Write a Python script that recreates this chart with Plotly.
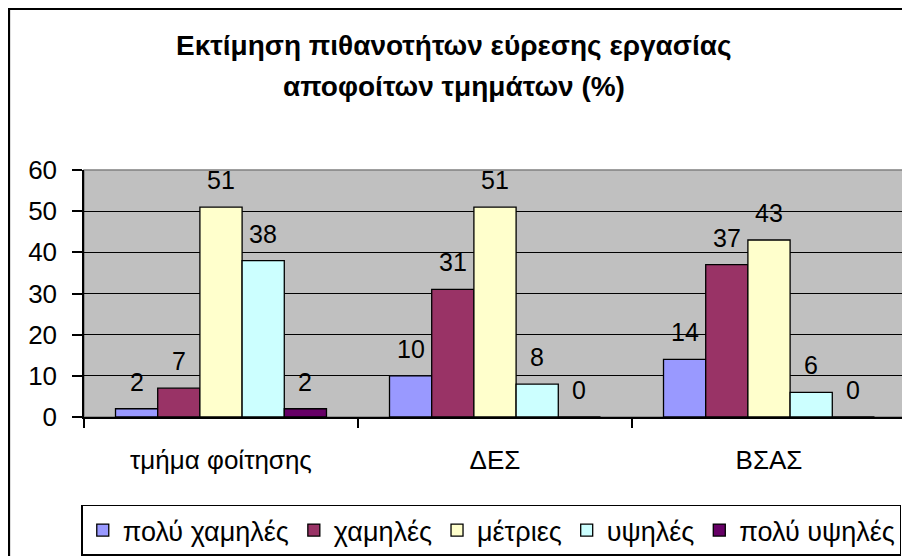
import plotly.graph_objects as go

# categories and series (percent)
departments = ["τμήμα φοίτησης", "ΔΕΣ", "ΒΣΑΣ"]
series_names = ["πολύ χαμηλές", "χαμηλές", "μέτριες", "υψηλές", "πολύ υψηλές"]
very_low = [2, 10, 14]
low = [7, 31, 37]
medium = [51, 51, 43]
high = [38, 8, 6]
very_high = [2, 0, 0]
colors = ["#9999FF", "#993366", "#FFFFCC", "#CCFFFF", "#660066"]

values = [very_low, low, medium, high, very_high]
bargap = 0.23
font_family = "Liberation Sans, Arial, sans-serif"

fig = go.Figure()
for name, vals, col in zip(series_names, values, colors):
    fig.add_trace(go.Bar(
        x=departments, y=vals, name=name,
        marker=dict(color=col, line=dict(color="black", width=1.3)),
    ))

# value labels above each bar (Excel style, with a bit of space)
annotations = []
n = len(series_names)
w = (1 - bargap) / n
for i, vals in enumerate(values):
    for ci, v in enumerate(vals):
        annotations.append(dict(
            x=ci + (i - (n - 1) / 2) * w, y=v, xref="x", yref="y",
            text=str(v), showarrow=False, yanchor="bottom", yshift=11,
            font=dict(size=25, color="black", family=font_family),
        ))

# two-line title
annotations.append(dict(
    x=0.4497, y=1.503, xref="paper", yref="paper", showarrow=False,
    xanchor="center", yanchor="middle",
    text="<b>Εκτίμηση πιθανοτήτων εύρεσης εργασίας</b>",
    font=dict(size=28, color="black", family=font_family),
))
annotations.append(dict(
    x=0.4497, y=1.34, xref="paper", yref="paper", showarrow=False,
    xanchor="center", yanchor="middle",
    text="<b>αποφοίτων τμημάτων (%)</b>",
    font=dict(size=28, color="black", family=font_family),
))

# page adds an 8px body margin, so the figure is 8px smaller on each side
fig.update_layout(
    width=902, height=548,
    margin=dict(l=76, r=4, t=162, b=139),
    paper_bgcolor="white", plot_bgcolor="#C0C0C0",
    barmode="group", bargap=bargap, bargroupgap=0,
    font=dict(family=font_family, size=26, color="black"),
    showlegend=True,
    legend=dict(
        orientation="h", xref="container", yref="container",
        x=0.536, xanchor="center", y=0.047, yanchor="middle",
        bordercolor="black", borderwidth=1.3, bgcolor="white",
        font=dict(size=27, family=font_family),
        itemwidth=30, tracegroupgap=0,
    ),
    annotations=annotations,
    shapes=[
        # plot area border
        dict(type="rect", xref="paper", yref="paper", x0=0, x1=1, y0=0, y1=1,
             line=dict(color="#808080", width=1.5), layer="below"),
        # outer chart border
        dict(type="rect", xref="paper", yref="paper", x0=-0.0912, x1=1.2,
             y0=-0.7, y1=1.652, line=dict(color="black", width=2.2),
             fillcolor="rgba(0,0,0,0)", layer="above"),
    ],
)

fig.update_xaxes(
    type="category", showline=True, linecolor="black", linewidth=1.5,
    ticks="outside", tickson="boundaries", ticklen=9, tickcolor="black",
    tickwidth=1.5, showgrid=False, ticklabelstandoff=19,
    tickfont=dict(size=26),
)
fig.update_yaxes(
    range=[0, 60], dtick=10, showline=True, linecolor="black", linewidth=1.5,
    ticks="outside", ticklen=10, tickcolor="black", tickwidth=1.5,
    showgrid=True, gridcolor="black", gridwidth=1.2, zeroline=False,
    ticklabelstandoff=10, tickfont=dict(size=26),
)

fig.write_html("out.html")
